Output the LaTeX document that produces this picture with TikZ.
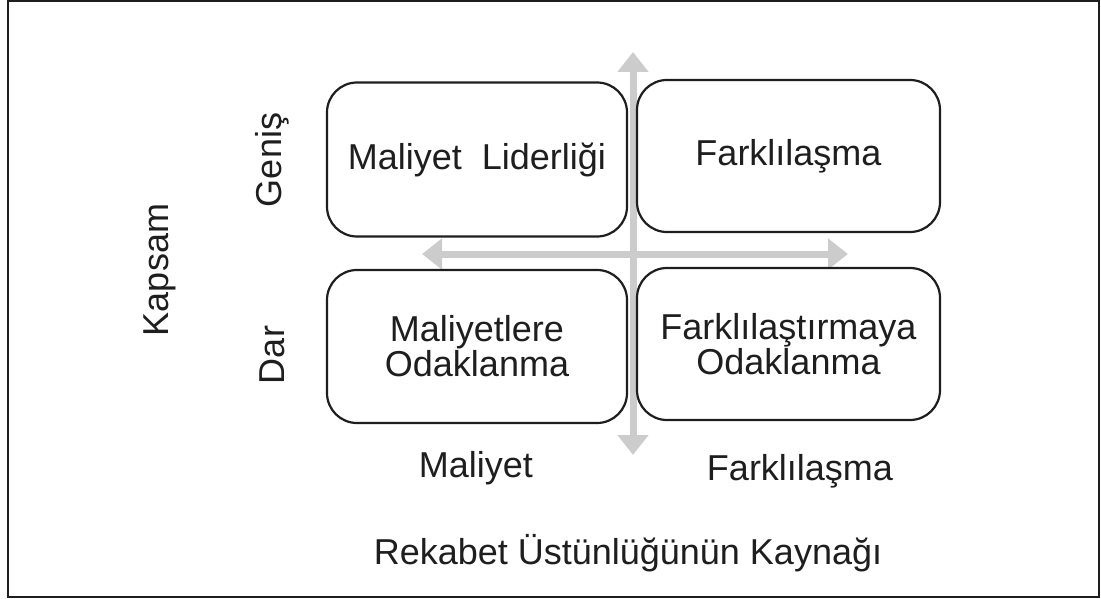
\documentclass[tikz,border=0pt]{standalone}
\usepackage{fontspec}
\setmainfont{Liberation Sans}
\usetikzlibrary{arrows.meta}

\definecolor{ink}{RGB}{30,30,30}
\definecolor{axisgray}{RGB}{204,204,204}

\tikzset{
  cell/.style={draw=ink, line width=2.2pt, rounded corners=30pt, fill=white,
    minimum width=300pt, minimum height=154pt, align=center, text=ink,
    font=\fontsize{36}{35}\selectfont},
  lbl/.style={text=ink, font=\fontsize{36}{35}\selectfont},
  axis/.style={axisgray, line width=7pt, -{Triangle[width=30pt,length=20pt]}}
}

\begin{document}
\begin{tikzpicture}[x=1pt,y=-1pt]
  \useasboundingbox (0,0) rectangle (1101,599);
  \draw[ink, line width=2pt] (8,1) rectangle (1099,597);

  % eksenler
  \coordinate (Vb) at (633,455);
  \coordinate (Vt) at (633,52);
  \coordinate (Hl) at (422,254);
  \coordinate (Hr) at (848,254);
  \coordinate (Hm) at (633,254);
  \draw[axis] (Hm) -- (Vb);
  \draw[axis] (Hm) -- (Vt);
  \draw[axis] (Hm) -- (Hl);
  \draw[axis] (Hm) -- (Hr);

  % kutular
  \node[cell] (ML) at (477,159.5) {Maliyet\ \ Liderliği};
  \node[cell, minimum width=303pt, minimum height=152pt] (FA) at (788.5,156) {Farklılaşma};
  \node[cell, minimum height=153pt] (MO) at (477,346.5) {Maliyetlere\\Odaklanma};
  \node[cell, minimum width=303pt, minimum height=152pt] (FO) at (788.5,344) {Farklılaştırmaya\\Odaklanma};

  % etiketler
  \node[lbl, rotate=90] (kapsam) at (160,270) {Kapsam};
  \node[lbl, rotate=90] (genis) at (272,160) {Geniş};
  \node[lbl, rotate=90] (dar) at (272,355) {Dar};
  \node[lbl] (maliyet) at (476,468) {Maliyet};
  \node[lbl] (farkli) at (800,471) {Farklılaşma};
  \node[lbl] (kaynak) at (628,553) {Rekabet Üstünlüğünün Kaynağı};
\end{tikzpicture}
\end{document}
